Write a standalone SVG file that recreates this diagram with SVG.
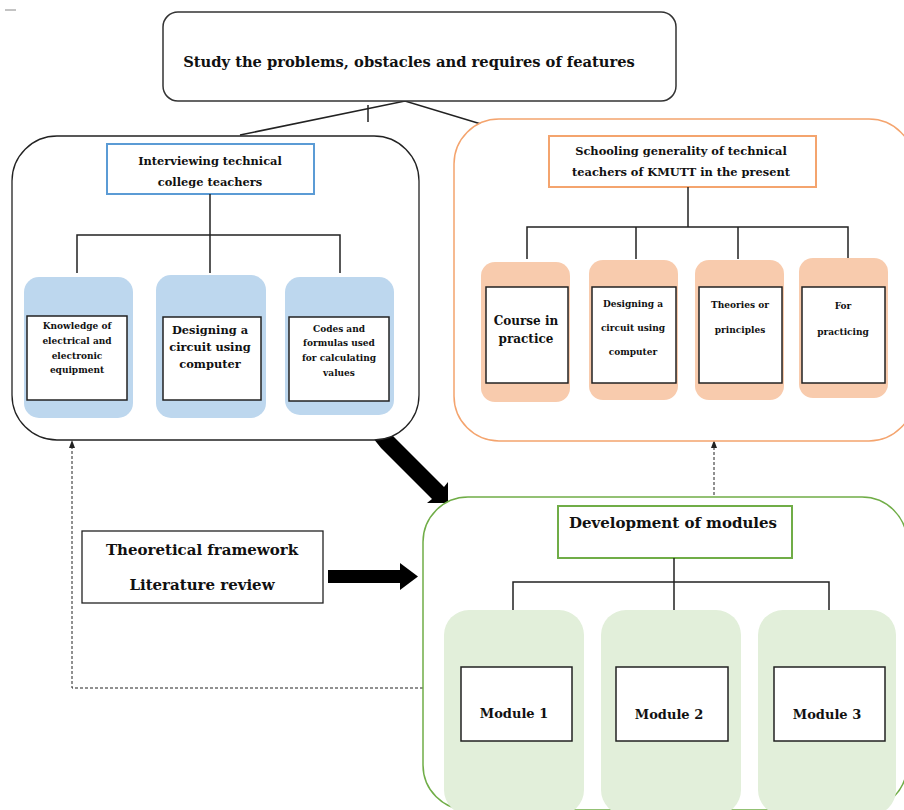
<svg xmlns="http://www.w3.org/2000/svg" width="904" height="810" viewBox="0 0 904 810">
<style>
text{font-family:'DejaVu Serif','Liberation Serif',serif;font-weight:bold;fill:#111;text-anchor:middle}
.big{font-size:15px}
.top{font-size:14.7px}
.mid{font-size:12px}
.hd{font-size:11.4px}
.sm{font-size:9px}
.mod{font-size:13px}
.ln{stroke:#222;stroke-width:1.5;fill:none}
.wb{fill:#fff;stroke:#222;stroke-width:1.5}
.dash{stroke:#222;stroke-width:1;fill:none;stroke-dasharray:3,2}
</style>
<defs>
<marker id="ah" markerWidth="8" markerHeight="8" refX="4" refY="4" orient="auto" markerUnits="userSpaceOnUse">
<path d="M0,1 L8,4 L0,7 Z" fill="#222"/>
</marker>
</defs>
<line x1="5" y1="10" x2="16" y2="10" stroke="#888" stroke-width="1"/>

<g id="connectors">
<path class="ln" d="M240,135 L405,101 L481,124" stroke-width="1.2"/>
<line class="ln" x1="368" y1="105" x2="368" y2="122" stroke-width="1"/>
<path class="dash" d="M714,495 L714,444" marker-end="url(#ah)"/>
<path class="dash" d="M423,688 L72,688 L72,444" marker-end="url(#ah)"/>
<polygon points="383,426 393,436 444,487 448,482 448,503 427,503 432,499 381,448 373,438" fill="#000"/>
<polygon points="328,570 400,570 400,563 418,576.5 400,590 400,583 328,583" fill="#000"/>
</g>

<g id="top">
<rect x="163" y="12" width="513" height="89" rx="15" fill="#fff" stroke="#333" stroke-width="1.5"/>
<text class="top" x="409" y="67">Study the problems, obstacles and requires of features</text>
</g>

<g id="interview">
<rect x="12" y="136" width="407" height="304" rx="45" fill="#fff" stroke="#222" stroke-width="1.3"/>
<rect x="107" y="144" width="207" height="50" fill="#fff" stroke="#5b9bd5" stroke-width="2"/>
<text class="hd" x="210" y="165">Interviewing technical</text>
<text class="hd" x="210" y="186">college teachers</text>
<path class="ln" d="M210,194 L210,273 M77,273 L77,235 L340,235 L340,273"/>
<g id="k1">
<rect x="24" y="277" width="109" height="141" rx="15" fill="#bdd7ee"/>
<rect class="wb" x="27" y="316" width="100" height="84"/>
<text class="sm" x="77" y="329">Knowledge  of</text>
<text class="sm" x="77" y="344">electrical and</text>
<text class="sm" x="77" y="359">electronic</text>
<text class="sm" x="77" y="373">equipment</text>
</g>
<g id="k2">
<rect x="156" y="275" width="110" height="143" rx="15" fill="#bdd7ee"/>
<rect class="wb" x="163" y="317" width="98" height="83"/>
<text class="hd" x="210" y="334">Designing a</text>
<text class="hd" x="210" y="351">circuit using</text>
<text class="hd" x="210" y="368">computer</text>
</g>
<g id="k3">
<rect x="285" y="277" width="109" height="138" rx="15" fill="#bdd7ee"/>
<rect class="wb" x="289" y="317" width="100" height="84"/>
<text class="sm" x="339" y="332">Codes and</text>
<text class="sm" x="339" y="346">formulas used</text>
<text class="sm" x="339" y="361">for calculating</text>
<text class="sm" x="339" y="376">values</text>
</g>
</g>

<g id="schooling">
<rect x="454" y="119" width="460" height="322" rx="45" fill="#fff" stroke="#f4a46e" stroke-width="1.5"/>
<rect x="549" y="136" width="267" height="51" fill="#fff" stroke="#f4a46e" stroke-width="2"/>
<text class="hd" x="681" y="155">Schooling generality of technical</text>
<text class="hd" x="681" y="176">teachers  of KMUTT in the present</text>
<path class="ln" d="M688,187 L688,227 M527,259 L527,227 L848,227 L848,259 M636,227 L636,259 M738,227 L738,259"/>
<g id="s1">
<rect x="481" y="262" width="89" height="140" rx="14" fill="#f8cbad"/>
<rect class="wb" x="486" y="287" width="82" height="96"/>
<text class="mid" x="526" y="325">Course in</text>
<text class="mid" x="526" y="343">practice</text>
</g>
<g id="s2">
<rect x="589" y="260" width="89" height="140" rx="14" fill="#f8cbad"/>
<rect class="wb" x="592" y="287" width="84" height="96"/>
<text class="sm" x="633" y="307">Designing a</text>
<text class="sm" x="633" y="331">circuit using</text>
<text class="sm" x="633" y="355">computer</text>
</g>
<g id="s3">
<rect x="695" y="260" width="89" height="140" rx="14" fill="#f8cbad"/>
<rect class="wb" x="699" y="287" width="83" height="96"/>
<text class="sm" x="740" y="308">Theories or</text>
<text class="sm" x="740" y="333">principles</text>
</g>
<g id="s4">
<rect x="799" y="258" width="89" height="140" rx="14" fill="#f8cbad"/>
<rect class="wb" x="802" y="287" width="83" height="96"/>
<text class="sm" x="843" y="309">For</text>
<text class="sm" x="843" y="335">practicing</text>
</g>
</g>

<g id="theory">
<rect x="82" y="531" width="241" height="72" fill="#fff" stroke="#222" stroke-width="1.3"/>
<text class="big" x="202" y="555">Theoretical framework</text>
<text class="big" x="202" y="590">Literature review</text>
</g>

<g id="development">
<rect x="423" y="497" width="484" height="313" rx="45" fill="#fff" stroke="#70ad47" stroke-width="1.5"/>
<rect x="558" y="506" width="234" height="52" fill="#fff" stroke="#70ad47" stroke-width="2"/>
<text class="big" x="673" y="528">Development of modules</text>
<path class="ln" d="M674,558 L674,610 M513,610 L513,582 L829,582 L829,610"/>
<g id="m1">
<rect x="444" y="610" width="140" height="205" rx="25" fill="#e2efda"/>
<rect class="wb" x="461" y="667" width="111" height="74"/>
<text class="mod" x="514" y="718">Module 1</text>
</g>
<g id="m2">
<rect x="601" y="610" width="140" height="205" rx="25" fill="#e2efda"/>
<rect class="wb" x="616" y="667" width="112" height="74"/>
<text class="mod" x="669" y="719">Module 2</text>
</g>
<g id="m3">
<rect x="758" y="610" width="138" height="205" rx="25" fill="#e2efda"/>
<rect class="wb" x="774" y="667" width="111" height="74"/>
<text class="mod" x="827" y="719">Module 3</text>
</g>
</g>
</svg>
